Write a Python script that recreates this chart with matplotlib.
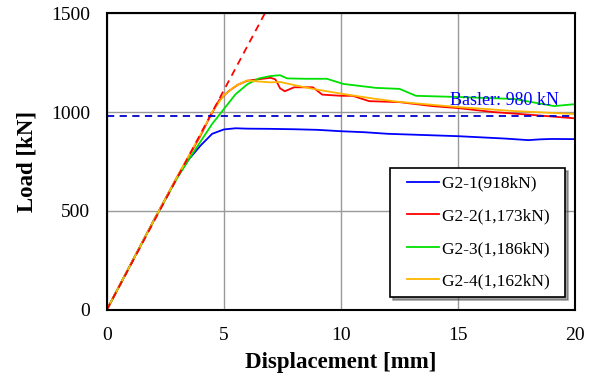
import matplotlib
matplotlib.use("Agg")
import matplotlib.pyplot as plt
from matplotlib.legend_handler import HandlerLine2D
import numpy as np

plt.rcParams['font.family'] = ['Liberation Serif', 'DejaVu Serif']

# load-displacement curves
g1_x = [0, 1, 2, 3, 3.5, 4, 4.5, 5, 5.5, 6, 7, 8, 9, 10, 11, 12, 13, 14, 15, 16, 17, 18, 18.5, 19, 20]
g1_y = [0, 225, 450, 670, 760, 830, 890, 912, 918, 916, 915, 913, 910, 903, 898, 890, 886, 882, 878, 872, 866, 858, 862, 864, 863]

g2_x = [0, 1, 2, 3, 4, 4.4, 4.8, 5.2, 5.6, 6, 6.5, 7, 7.2, 7.4, 7.6, 8, 8.8, 9.2, 10, 10.5, 11.2, 12.5, 13.9, 15, 16.5, 18.2, 20]
g2_y = [0, 225, 450, 670, 880, 975, 1060, 1105, 1138, 1158, 1166, 1173, 1165, 1120, 1105, 1125, 1125, 1088, 1082, 1082, 1055, 1050, 1030, 1020, 1000, 985, 968]

g3_x = [0, 1, 2, 3, 3.5, 4, 4.5, 5, 5.5, 6, 6.5, 7, 7.4, 7.7, 8.5, 9.4, 10.1, 11.5, 12.5, 13.2, 15, 17.4, 19.1, 20]
g3_y = [0, 225, 450, 665, 760, 850, 940, 1015, 1090, 1140, 1170, 1182, 1186, 1170, 1168, 1168, 1142, 1122, 1117, 1082, 1076, 1066, 1030, 1040]

g4_x = [0, 1, 2, 3, 4, 4.5, 5, 5.5, 6, 6.4, 7, 7.4, 8.25, 8.8, 10.1, 11.5, 12.5, 15, 17.4, 20]
g4_y = [0, 225, 450, 672, 885, 1000, 1085, 1132, 1160, 1155, 1150, 1152, 1130, 1117, 1091, 1066, 1051, 1025, 1005, 990]

labels = ['G2-1(918kN)', 'G2-2(1,173kN)', 'G2-3(1,186kN)', 'G2-4(1,162kN)']
colors = ['#0000ff', '#ff0000', '#00e000', '#ffb400']

basler = 980
stiffness = 222  # kN/mm, initial stiffness line


class ShortLine(HandlerLine2D):
    # legend line drawn only on the right part of the handle box
    def get_xdata(self, legend, xdescent, ydescent, width, height, fontsize):
        x0 = -xdescent + 0.22 * width
        x1 = -xdescent + width
        return np.array([x0, x1]), np.array([x0, x1])


fig = plt.figure(figsize=(5.93, 3.85), dpi=100)
ax = fig.add_axes([0.180, 0.195, 0.790, 0.771])

for xs, ys, lab, c in zip([g1_x, g2_x, g3_x, g4_x], [g1_y, g2_y, g3_y, g4_y], labels, colors):
    ax.plot(xs, ys, color=c, lw=1.3, label=lab + '  ')

xs = np.array([0, 1500 / stiffness])
ax.plot(xs, stiffness * xs, color='#ff0000', lw=1.3, ls=(0, (4, 3)))
ax.axhline(basler, color='#0000cc', lw=1.3, ls=(0, (4, 3)))
ax.text(19.3, 1035, 'Basler: 980 kN', color='#0000ff', fontsize=13,
        ha='right', va='baseline')

ax.set_xlim(0, 20)
ax.set_ylim(0, 1500)
ax.set_xticks([0, 5, 10, 15, 20])
ax.set_yticks([0, 500, 1000, 1500])
ax.grid(True, color='#999999', lw=1.0)
ax.set_axisbelow(True)
ax.tick_params(length=0, labelsize=14, pad=12)
for s in ax.spines.values():
    s.set_linewidth(1.5)

ax.set_xlabel('Displacement [mm]', fontsize=16.5, fontweight='bold', labelpad=6)
ax.set_ylabel('Load [kN]', fontsize=16.5, fontweight='bold', labelpad=10)

leg = ax.legend(loc='lower right', bbox_to_anchor=(0.979, 0.044), fontsize=12.5,
                frameon=True, fancybox=False, shadow=True, handlelength=2.36,
                labelspacing=0.95, borderpad=0.42, handletextpad=0.17,
                borderaxespad=0, handler_map={plt.Line2D: ShortLine()})
leg.get_frame().set_edgecolor('black')
leg.get_frame().set_linewidth(1.2)

fig.savefig('out.png', dpi=100)
